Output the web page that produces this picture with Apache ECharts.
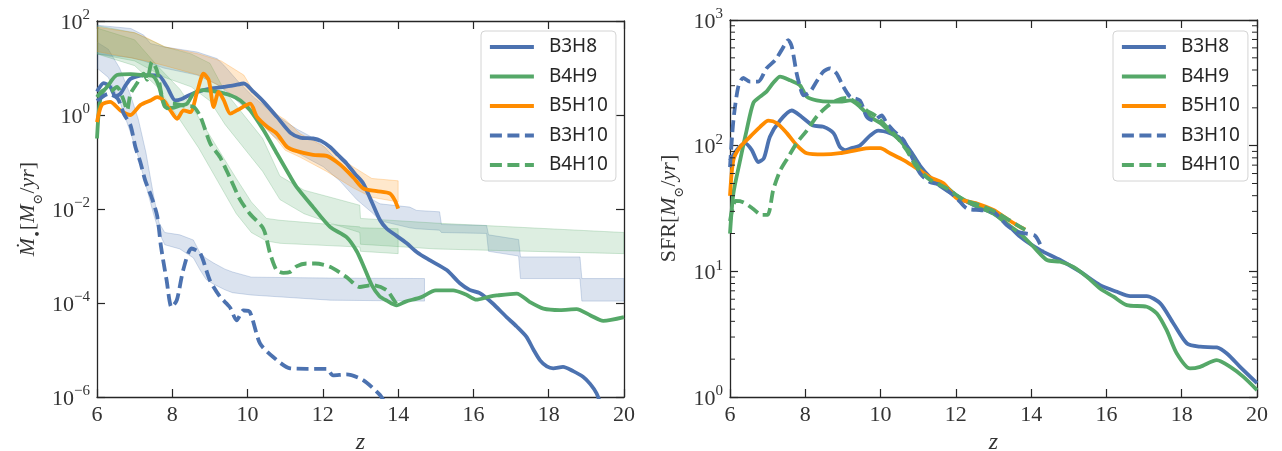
<!DOCTYPE html>
<html><head><meta charset="utf-8">
<script src="https://cdn.jsdelivr.net/npm/echarts@6/dist/echarts.min.js"></script>
<style>html,body{margin:0;padding:0;background:#fff}#c{width:1282px;height:451px}</style>
</head><body><div id="c"></div>
<script>
const seriesNames = ['B3H8','B4H9','B5H10','B3H10','B4H10'];
const xTickValues = [6, 8, 10, 12, 14, 16, 18, 20];
const leftYTickExponents = [-6, -4, -2, 0, 2];
const rightYTickExponents = [0, 1, 2, 3];

// ---- Left panel: log10 of BH accretion rate [z, log10(Mdot)] ----
const mdotB3H8 = [[6.0,0.5],[6.18,0.68],[6.35,0.6],[6.49,0.4],[6.62,0.45],[6.75,0.62],[6.89,0.77],[7.15,0.84],[7.4,0.85],[7.64,0.84],[7.86,0.6],[8.08,0.31],[8.25,0.34],[8.39,0.4],[8.66,0.49],[9.01,0.56],[9.37,0.6],[9.63,0.63],[9.9,0.67],[10.16,0.49],[10.43,0.28],[10.78,-0.04],[11.14,-0.38],[11.4,-0.48],[11.74,-0.5],[11.95,-0.55],[12.19,-0.68],[12.4,-0.85],[12.63,-1.03],[12.85,-1.25],[13.07,-1.45],[13.3,-1.85],[13.52,-2.24],[13.7,-2.42],[13.87,-2.52],[14.23,-2.73],[14.5,-2.92],[14.84,-3.09],[15.29,-3.3],[15.64,-3.58],[15.9,-3.72],[16.17,-3.79],[16.5,-4.0],[16.88,-4.3],[17.15,-4.5],[17.41,-4.72],[17.6,-5.0],[17.77,-5.22],[17.95,-5.35],[18.12,-5.39],[18.38,-5.36],[18.65,-5.45],[18.91,-5.57],[19.1,-5.72],[19.27,-5.92],[19.4,-6.2]];
const mdotB4H9 = [[6.0,-0.5],[6.05,0.1],[6.12,0.45],[6.27,0.6],[6.53,0.85],[6.9,0.87],[7.2,0.85],[7.5,0.82],[7.65,0.6],[7.8,0.18],[8.0,0.15],[8.2,0.2],[8.39,0.24],[8.57,0.46],[8.83,0.53],[9.19,0.49],[9.54,0.42],[9.81,0.31],[10.07,0.1],[10.43,-0.33],[10.78,-0.82],[11.14,-1.32],[11.3,-1.53],[11.74,-1.96],[12.19,-2.38],[12.63,-2.6],[12.9,-2.9],[13.1,-3.25],[13.3,-3.62],[13.5,-3.85],[13.7,-3.95],[13.96,-4.05],[14.2,-3.97],[14.6,-3.88],[15.0,-3.73],[15.46,-3.73],[15.8,-3.82],[16.08,-3.93],[16.4,-3.87],[16.62,-3.84],[17.15,-3.8],[17.5,-3.98],[17.86,-4.12],[18.3,-4.15],[18.74,-4.13],[19.1,-4.26],[19.45,-4.38],[20.0,-4.3]];
const mdotB5H10 = [[6.0,-0.15],[6.13,0.22],[6.35,0.28],[6.62,0.1],[6.89,0.0],[7.15,0.21],[7.42,0.31],[7.6,0.38],[7.77,0.31],[7.95,0.1],[8.13,-0.08],[8.3,0.1],[8.48,0.06],[8.66,0.49],[8.83,0.88],[8.97,0.74],[9.1,0.17],[9.23,0.49],[9.37,0.31],[9.54,0.03],[9.72,0.1],[10.07,0.24],[10.25,-0.04],[10.52,-0.25],[10.78,-0.4],[11.05,-0.68],[11.31,-0.77],[11.74,-0.85],[12.1,-0.87],[12.45,-1.05],[12.81,-1.33],[13.07,-1.56],[13.43,-1.62],[13.78,-1.67],[13.91,-1.81],[14.0,-1.99]];
const mdotB3H10 = [[6.0,0.3],[6.3,0.45],[6.55,0.35],[6.71,0.03],[6.89,-0.22],[7.02,-0.68],[7.15,-1.0],[7.28,-1.39],[7.45,-1.75],[7.6,-2.15],[7.7,-2.8],[7.85,-3.52],[7.98,-4.09],[8.12,-3.94],[8.29,-3.3],[8.51,-2.84],[8.74,-2.94],[9.0,-3.52],[9.27,-3.87],[9.53,-4.09],[9.71,-4.37],[9.89,-4.16],[10.06,-4.19],[10.33,-4.86],[10.68,-5.15],[11.13,-5.39],[11.57,-5.4],[12.1,-5.4],[12.27,-5.54],[12.63,-5.52],[13.07,-5.64],[13.52,-5.96],[13.7,-6.2]];
const mdotB4H10 = [[6.0,0.38],[6.18,0.53],[6.35,0.5],[6.53,0.6],[6.71,0.31],[6.8,0.1],[6.89,0.45],[7.06,0.67],[7.24,0.88],[7.33,0.75],[7.46,1.13],[7.59,0.95],[7.73,0.38],[7.86,0.14],[8.0,0.24],[8.3,0.2],[8.57,0.17],[8.75,-0.04],[9.01,-0.61],[9.27,-0.9],[9.54,-1.35],[9.8,-1.8],[10.06,-2.1],[10.42,-2.42],[10.6,-2.95],[10.77,-3.3],[10.95,-3.36],[11.13,-3.34],[11.3,-3.22],[11.57,-3.16],[11.8,-3.16],[12.19,-3.23],[12.63,-3.45],[12.98,-3.66],[13.2,-3.63],[13.34,-3.62],[13.7,-3.73],[13.92,-3.98],[14.0,-4.05]];

// ---- Left panel shaded ranges: [z, log10(lower), log10(upper)] ----
const bandB3H8 = [[6,1.3,1.91],[6.9,1.22,1.84],[7.24,1.15,1.7],[7.42,1.1,1.52],[7.77,1.0,1.45],[8.66,0.85,1.34],[9.19,0.65,1.2],[9.37,0.55,1.06],[9.72,0.3,0.74],[10.16,0.0,0.38],[10.69,-0.45,0.03],[11.31,-0.8,-0.3],[11.66,-0.95,-0.45],[12.01,-1.1,-0.65],[12.45,-1.4,-1.03],[12.9,-1.8,-1.46],[13.34,-2.1,-1.81],[13.52,-2.25,-1.89],[14.31,-2.4,-1.96],[14.49,-2.42,-2.03],[15.1,-2.45,-2.06],[15.15,-2.5,-2.33],[16.35,-2.52,-2.35],[16.4,-2.9,-2.55],[17.2,-3.0,-2.65],[17.25,-3.48,-3.02],[18.83,-3.48,-3.02],[18.88,-3.96,-3.48],[20,-3.96,-3.48]];
const bandB3H10 = [[6,1.0,1.55],[6.3,0.8,1.4],[6.6,0.3,1.0],[6.9,-0.4,0.4],[7.1,-0.9,-0.1],[7.3,-1.5,-0.8],[7.5,-2.1,-1.7],[7.65,-2.5,-2.3],[7.8,-2.76,-2.5],[8.2,-2.85,-2.55],[8.56,-3.04,-2.66],[8.74,-3.3,-2.94],[8.9,-3.5,-3.05],[9.1,-3.6,-3.15],[9.4,-3.72,-3.28],[9.6,-3.78,-3.34],[10.1,-3.83,-3.45],[12.2,-3.94,-3.47],[14.7,-3.96,-3.48]];
const bandB4H9 = [[6,1.3,1.9],[7,1.15,1.75],[7.8,0.8,1.45],[8.5,0.6,1.3],[9.0,0.3,1.1],[9.4,-0.2,0.5],[9.8,-0.6,0.1],[10.4,-1.2,-0.5],[10.86,-1.8,-1.3],[11.5,-2.1,-1.6],[12.2,-2.3,-1.75],[12.98,-2.5,-1.92],[13.0,-2.75,-2.2],[15,-2.85,-2.3],[20,-2.95,-2.5]];
const bandB4H10 = [[6,1.3,1.85],[7.0,1.05,1.6],[7.6,0.6,1.05],[8.2,-0.1,0.55],[8.7,-0.7,-0.05],[9.2,-1.4,-0.7],[9.7,-2.1,-1.35],[10.1,-2.5,-1.85],[10.5,-2.68,-2.2],[10.86,-2.73,-2.24],[12.98,-2.81,-2.38],[13.0,-2.9,-2.4],[14.0,-2.95,-2.42]];
const bandB5H10 = [[6,1.35,1.87],[7,1.2,1.75],[7.3,1.15,1.65],[7.8,1.05,1.45],[8.7,0.85,1.3],[9.3,0.6,1.15],[9.9,0.25,0.85],[10.2,0.0,0.45],[10.5,-0.3,0.25],[10.8,-0.55,0.0],[11.0,-0.75,-0.1],[11.4,-0.9,-0.4],[12.1,-1.2,-0.7],[12.8,-1.55,-1.1],[13.3,-1.75,-1.35],[14.0,-1.85,-1.4]];

// ---- Right panel: log10 SFR [z, log10(SFR)] ----
const sfrB3H8 = [[6.0,1.88],[6.18,1.965],[6.4,2.02],[6.58,1.965],[6.75,1.87],[6.9,1.9],[7.06,2.07],[7.33,2.2],[7.64,2.28],[7.9,2.23],[8.21,2.16],[8.48,2.15],[8.75,2.1],[8.92,1.99],[9.06,1.965],[9.23,1.98],[9.45,2.0],[9.72,2.08],[9.94,2.12],[10.25,2.1],[10.52,2.06],[10.78,1.965],[11.05,1.84],[11.31,1.75],[11.58,1.68],[12.03,1.594],[12.47,1.527],[13.0,1.461],[13.35,1.38],[13.71,1.275],[14.24,1.169],[14.77,1.09],[15.3,0.997],[15.83,0.89],[16.28,0.837],[16.63,0.803],[17.07,0.803],[17.43,0.745],[17.78,0.585],[18.14,0.426],[18.49,0.4],[18.93,0.394],[19.2,0.346],[19.55,0.24],[20.0,0.11]];
const sfrB4H9 = [[6.0,1.3],[6.09,1.62],[6.27,1.885],[6.44,2.12],[6.62,2.34],[6.8,2.39],[6.97,2.43],[7.15,2.5],[7.33,2.55],[7.6,2.52],[7.86,2.48],[8.04,2.39],[8.3,2.36],[8.66,2.35],[8.92,2.35],[9.19,2.36],[9.45,2.31],[9.72,2.23],[9.99,2.18],[10.25,2.11],[10.52,2.04],[10.78,1.94],[11.05,1.81],[11.31,1.73],[11.67,1.69],[12.03,1.6],[12.47,1.53],[13.0,1.46],[13.35,1.38],[13.71,1.3],[14.06,1.196],[14.42,1.09],[14.77,1.076],[15.12,1.036],[15.48,0.957],[15.83,0.864],[16.19,0.798],[16.54,0.731],[17.07,0.718],[17.34,0.665],[17.6,0.532],[17.87,0.346],[18.22,0.227],[18.49,0.24],[18.93,0.293],[19.29,0.24],[19.64,0.16],[20.0,0.055]];
const sfrB5H10 = [[6.0,1.6],[6.09,1.885],[6.27,1.99],[6.53,2.07],[6.8,2.15],[7.02,2.2],[7.24,2.18],[7.51,2.1],[7.77,2.005],[8.04,1.94],[8.48,1.93],[8.92,1.94],[9.37,1.965],[9.72,1.98],[9.99,1.98],[10.25,1.94],[10.61,1.885],[10.96,1.82],[11.31,1.75],[11.67,1.7],[12.03,1.58],[12.56,1.54],[13.0,1.488],[13.35,1.42],[13.62,1.368],[13.84,1.334]];
const sfrB3H10 = [[6.0,1.83],[6.09,2.2],[6.22,2.47],[6.35,2.54],[6.53,2.51],[6.75,2.51],[6.97,2.615],[7.2,2.68],[7.37,2.76],[7.55,2.84],[7.64,2.79],[7.77,2.575],[7.86,2.47],[7.95,2.4],[8.13,2.43],[8.3,2.51],[8.48,2.59],[8.66,2.615],[8.83,2.575],[9.01,2.47],[9.19,2.39],[9.45,2.36],[9.63,2.23],[9.81,2.2],[10.03,2.24],[10.16,2.18],[10.34,2.12],[10.61,2.045],[10.83,1.91],[11.05,1.78],[11.31,1.71],[11.58,1.69],[12.03,1.58],[12.29,1.5],[12.64,1.488],[13.0,1.474],[13.35,1.368],[13.62,1.315],[13.88,1.3],[14.1,1.285],[14.2,1.24],[14.3,1.17]];
const sfrB4H10 = [[6.0,1.4],[6.15,1.56],[6.35,1.55],[6.6,1.5],[6.84,1.45],[7.0,1.45],[7.15,1.65],[7.33,1.8],[7.55,1.91],[7.77,2.02],[8.04,2.12],[8.3,2.23],[8.57,2.31],[8.83,2.36],[9.1,2.38],[9.37,2.34],[9.63,2.28],[9.9,2.23],[10.16,2.15],[10.43,2.07],[10.69,1.965],[10.96,1.83],[11.31,1.73],[11.76,1.66],[12.2,1.57],[12.6,1.53],[13.0,1.48],[13.35,1.42],[13.62,1.37],[13.84,1.33]];

const minorTickMantissas = [2,3,4,5,6,7,8,9];

// ---------------- build ----------------
const COL = {blue:'#4c72b0', green:'#55a868', orange:'#ff8c00'};
const styleOf = {
  B3H8:{c:COL.blue,t:'solid'}, B4H9:{c:COL.green,t:'solid'}, B5H10:{c:COL.orange,t:'solid'},
  B3H10:{c:COL.blue,t:[12,5.5]}, B4H10:{c:COL.green,t:[12,5.5]}
};
const toVal = arr => arr.map(p => [p[0], Math.pow(10, p[1])]);
const AX = '#262626', TXT = '#333';
const serif = "'Liberation Serif','DejaVu Serif',serif";

function lineSeries(name, arr, gi) {
  const s = styleOf[name];
  return {
    name, type:'line', xAxisIndex: gi*2, yAxisIndex: gi*2, data: toVal(arr),
    symbol:'none', showSymbol:false, smooth:0.25, clip:true, z:3, silent:true,
    lineStyle:{color:s.c, width:3.8, type:s.t, cap:'butt', join:'round'},
    itemStyle:{color:s.c}
  };
}
function hexA(hex, a){
  const n = parseInt(hex.slice(1),16);
  return 'rgba(' + (n>>16&255) + ',' + (n>>8&255) + ',' + (n&255) + ',' + a + ')';
}
function bandSeries(rows, color) {
  const data = rows.map(r => [r[0], Math.pow(10,r[1]), Math.pow(10,r[2])]);
  return {
    type:'custom', xAxisIndex:0, yAxisIndex:0, silent:true, z:1, clip:true,
    data, encode:{x:0, y:[1,2]},
    renderItem(params, api){
      if (params.dataIndex !== 0) return null;
      const up = data.map(d => api.coord([d[0], d[2]]));
      const lo = data.map(d => api.coord([d[0], d[1]])).reverse();
      return {type:'polygon', shape:{points: up.concat(lo)},
        style:{fill: hexA(color,0.2), stroke: hexA(color,0.25), lineWidth:1}};
    }
  };
}
function minorTickSeries(){
  const data = [];
  rightYTickExponents.slice(0,-1).forEach(e => minorTickMantissas.forEach(m => data.push([6, m*Math.pow(10,e)])));
  return {
    type:'custom', xAxisIndex:2, yAxisIndex:2, silent:true, z:5, data, encode:{x:0,y:1},
    renderItem(params, api){
      const v = api.value(1);
      const a = api.coord([6, v]), b = api.coord([20, v]);
      return {type:'group', children:[
        {type:'line', shape:{x1:a[0], y1:a[1], x2:a[0]+5, y2:a[1]}, style:{stroke:AX, lineWidth:1}},
        {type:'line', shape:{x1:b[0]-5, y1:b[1], x2:b[0], y2:b[1]}, style:{stroke:AX, lineWidth:1}}
      ]};
    }
  };
}
const supFmt = v => {
  const e = Math.round(Math.log10(v));
  return '{b|10}{s|' + (e < 0 ? '\u2212' + (-e) : e) + '}';
};
const richTick = {
  b:{fontFamily:serif, fontSize:22, lineHeight:26, color:TXT, verticalAlign:'bottom'},
  s:{fontFamily:serif, fontSize:15, lineHeight:15, color:TXT, verticalAlign:'top'}
};
const richName = {
  i:{fontFamily:serif, fontStyle:'italic', fontSize:22, lineHeight:28, color:TXT, verticalAlign:'top'},
  r:{fontFamily:serif, fontSize:22, lineHeight:28, color:TXT, verticalAlign:'top'},
  sub:{fontFamily:"'DejaVu Serif',serif", fontSize:13, lineHeight:14, color:TXT, verticalAlign:'bottom'}
};
function xAxes(gi){
  const base = {gridIndex:gi, type:'value', min:6, max:20, interval:2, splitLine:{show:false},
    axisLine:{show:true, onZero:false, lineStyle:{color:AX, width:1.3}},
    axisTick:{show:true, inside:true, length:8, lineStyle:{color:AX, width:1.2}}};
  return [
    Object.assign({}, base, {position:'bottom', name:'z', nameLocation:'middle', nameGap:24,
      nameTextStyle:{fontFamily:serif, fontStyle:'italic', fontSize:24, color:TXT},
      axisLabel:{show:true, margin:7, fontFamily:serif, fontSize:22, color:TXT,
        customValues: xTickValues}}),
    Object.assign({}, base, {position:'top', axisLabel:{show:false}})
  ];
}
function yAxes(gi, logBase, min, max, name, gap){
  const base = {gridIndex:gi, type:'log', logBase, min, max, splitLine:{show:false},
    axisLine:{show:true, onZero:false, lineStyle:{color:AX, width:1.3}},
    axisTick:{show:true, inside:true, length:8, lineStyle:{color:AX, width:1.2}},
    minorTick:{show:false}};
  return [
    Object.assign({}, base, {position:'left', name, nameLocation:'middle', nameRotate:90, nameGap:gap,
      nameTextStyle:{rich:richName},
      axisLabel:{show:true, margin:7, formatter:supFmt, rich:richTick}}),
    Object.assign({}, base, {position:'right', axisLabel:{show:false}})
  ];
}
const legendBase = {
  data: seriesNames, orient:'vertical', top:31, itemWidth:44, itemHeight:14, itemGap:9.5,
  padding:[6,8,6,7], backgroundColor:'rgba(255,255,255,0.85)', borderColor:'#d4d4d4',
  borderWidth:1, borderRadius:4, selectedMode:false,
  itemStyle:{opacity:0},
  lineStyle:{width:3.8},
  textStyle:{fontFamily:"'Noto Sans','Open Sans',sans-serif", fontSize:19, lineHeight:20, color:'#262626', padding:[0,0,0,10]}
};

const series = [
  bandSeries(bandB3H8, COL.blue), bandSeries(bandB3H10, COL.blue),
  bandSeries(bandB4H9, COL.green), bandSeries(bandB4H10, COL.green),
  bandSeries(bandB5H10, COL.orange),
  lineSeries('B3H8', mdotB3H8, 0), lineSeries('B4H9', mdotB4H9, 0), lineSeries('B5H10', mdotB5H10, 0),
  lineSeries('B3H10', mdotB3H10, 0), lineSeries('B4H10', mdotB4H10, 0),
  lineSeries('B3H8', sfrB3H8, 1), lineSeries('B4H9', sfrB4H9, 1), lineSeries('B5H10', sfrB5H10, 1),
  lineSeries('B3H10', sfrB3H10, 1), lineSeries('B4H10', sfrB4H10, 1),
  minorTickSeries()
];

const chart = echarts.init(document.getElementById('c'), null, {renderer:'canvas'});
chart.setOption({
  animation:false, backgroundColor:'#fff',
  grid:[
    {left:97, right:658, top:21, bottom:54, containLabel:false, outerBoundsMode:'none'},
    {left:730, right:25, top:20, bottom:54, containLabel:false, outerBoundsMode:'none'}
  ],
  xAxis: xAxes(0).concat(xAxes(1)),
  yAxis: yAxes(0, 100, 1e-6, 1e2,
      '{i|\u1E40}{sub|\u2022}{r|[}{i|M}{sub|\u2299}{r|/}{i|yr}{r|]}', 52)
    .concat(yAxes(1, 10, 1, 1e3, '{r|SFR[}{i|M}{sub|\u2299}{r|/}{i|yr}{r|]}', 44)),
  legend:[
    Object.assign({}, legendBase, {left:481}),
    Object.assign({}, legendBase, {left:1113})
  ],
  series
});
</script>
</body></html>
